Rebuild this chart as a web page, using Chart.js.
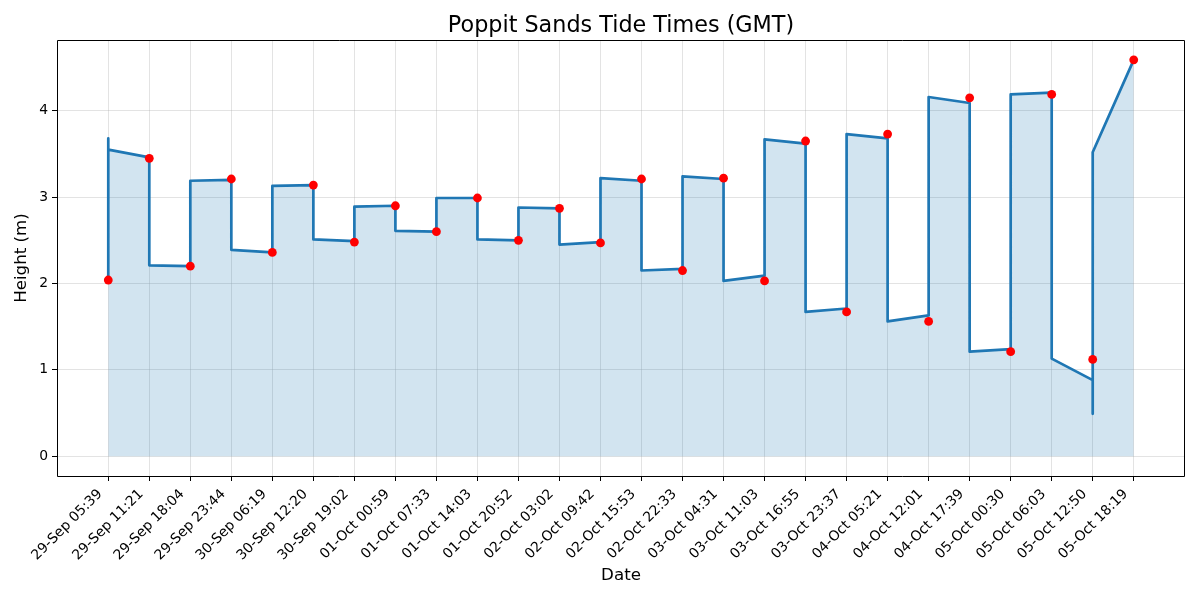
<!DOCTYPE html>
<html>
<head>
<meta charset="utf-8">
<script src="https://cdn.jsdelivr.net/npm/chart.js@4.4.1/dist/chart.umd.min.js"></script>
<style>
  body { margin: 0; background: #fff; }
</style>
</head>
<body>
<canvas id="chart" width="1200" height="600"></canvas>
<script>
// tide times (category labels on the x axis)
const tideLabels = [
  "29-Sep 05:39", "29-Sep 11:21", "29-Sep 18:04", "29-Sep 23:44",
  "30-Sep 06:19", "30-Sep 12:20", "30-Sep 19:02", "01-Oct 00:59",
  "01-Oct 07:33", "01-Oct 14:03", "01-Oct 20:52", "02-Oct 03:02",
  "02-Oct 09:42", "02-Oct 15:53", "02-Oct 22:33", "03-Oct 04:31",
  "03-Oct 11:03", "03-Oct 16:55", "03-Oct 23:37", "04-Oct 05:21",
  "04-Oct 12:01", "04-Oct 17:39", "05-Oct 00:30", "05-Oct 06:03",
  "05-Oct 12:50", "05-Oct 18:19"
];

// red markers: tide height at each time
const tideHeights = [
  2.04, 3.45, 2.20, 3.21, 2.36, 3.14, 2.48, 2.90, 2.60, 2.99,
  2.50, 2.87, 2.47, 3.21, 2.15, 3.22, 2.03, 3.65, 1.67, 3.73,
  1.56, 4.15, 1.21, 4.19, 1.12, 4.59
];

// blue trace: vertices (category index, height)
const traceIndex = [
  0, 0, 0, 1, 1, 2, 2, 3, 3, 4, 4, 5, 5, 6, 6, 7, 7, 8, 8, 9, 9,
  10, 10, 11, 11, 12, 12, 13, 13, 14, 14, 15, 15, 16, 16, 17, 17,
  18, 18, 19, 19, 20, 20, 21, 21, 22, 22, 23, 23, 24, 24, 24, 25
];
const traceHeight = [
  2.03, 3.68, 3.55, 3.46, 2.21, 2.20, 3.19, 3.20, 2.39, 2.36, 3.13,
  3.14, 2.51, 2.49, 2.89, 2.90, 2.61, 2.60, 2.99, 2.99, 2.51, 2.50,
  2.88, 2.87, 2.45, 2.48, 3.22, 3.19, 2.15, 2.17, 3.24, 3.21, 2.03,
  2.09, 3.67, 3.62, 1.67, 1.71, 3.73, 3.68, 1.56, 1.63, 4.16, 4.09,
  1.21, 1.24, 4.19, 4.21, 1.13, 0.88, 0.49, 3.52, 4.59
];

const yTicks = [0, 1, 2, 3, 4];

const chartTitle = "Poppit Sands Tide Times (GMT)";
const FONT = "'DejaVu Sans', sans-serif";
const gridColor = "rgba(176, 176, 176, 0.35)";

// black frame on all four sides + title centred over the plot area
const framePlugin = {
  id: "frame",
  afterDraw(chart) {
    const { ctx, chartArea } = chart;
    const left = Math.round(chartArea.left) + 0.5;
    const right = Math.round(chartArea.right) - 0.5;
    const top = Math.round(chartArea.top) + 0.5;
    const bottom = Math.round(chartArea.bottom) + 0.5;
    ctx.save();
    ctx.strokeStyle = "#000";
    ctx.lineWidth = 1;
    ctx.beginPath();
    ctx.moveTo(left, bottom);
    ctx.lineTo(left, top);
    ctx.lineTo(right, top);
    ctx.lineTo(right, bottom);
    ctx.lineTo(left, bottom);
    ctx.stroke();

    ctx.fillStyle = "#000";
    ctx.font = "22.3px " + FONT;
    ctx.textAlign = "center";
    ctx.textBaseline = "alphabetic";
    ctx.fillText(chartTitle, (chartArea.left + chartArea.right) / 2, chartArea.top - 8.3);
    ctx.restore();
  }
};

new Chart(document.getElementById("chart").getContext("2d"), {
  type: "line",
  data: {
    datasets: [
      {
        label: "High/Low",
        data: tideHeights.map((h, i) => ({ x: i, y: h })),
        showLine: false,
        pointRadius: 4.4,
        pointBackgroundColor: "#ff0000",
        pointBorderWidth: 0,
        order: 0
      },
      {
        label: "Tide",
        data: traceIndex.map((x, i) => ({ x: x, y: traceHeight[i] })),
        borderColor: "#1f77b4",
        borderWidth: 2.7,
        borderJoinStyle: "round",
        backgroundColor: "rgba(31, 119, 180, 0.2)",
        fill: "origin",
        tension: 0,
        pointRadius: 0,
        order: 1
      }
    ]
  },
  options: {
    responsive: false,
    animation: false,
    layout: { padding: { left: 0, right: 15, top: 40, bottom: 0 } },
    plugins: {
      legend: { display: false },
      tooltip: { enabled: false },
      title: { display: false }
    },
    scales: {
      x: {
        type: "linear",
        min: -1.25,
        max: 26.25,
        afterBuildTicks: (scale) => {
          scale.ticks = tideLabels.map((_, i) => ({ value: i }));
        },
        afterFit: (scale) => { scale.height = 124; },
        ticks: {
          autoSkip: false,
          minRotation: 45,
          maxRotation: 45,
          padding: 5,
          labelOffset: -8,
          color: "#000",
          font: { family: FONT, size: 13.9 },
          callback: (value) => tideLabels[value]
        },
        grid: { color: gridColor, tickColor: "#000", tickLength: 5 },
        border: { display: false },
        title: {
          display: true,
          text: "Date",
          color: "#000",
          font: { family: FONT, size: 16.7 },
          padding: { top: 0, bottom: 14 }
        }
      },
      y: {
        type: "linear",
        min: -0.23,
        max: 4.82,
        afterBuildTicks: (scale) => {
          scale.ticks = yTicks.map((v) => ({ value: v }));
        },
        afterFit: (scale) => { scale.width = 57; },
        ticks: {
          padding: 4,
          color: "#000",
          font: { family: FONT, size: 13.9 }
        },
        grid: { color: gridColor, tickColor: "#000", tickLength: 5 },
        border: { display: false },
        title: {
          display: true,
          text: "Height (m)",
          color: "#000",
          font: { family: FONT, size: 16.7 },
          padding: { top: 12, bottom: 0 }
        }
      }
    }
  },
  plugins: [framePlugin]
});
</script>
</body>
</html>
